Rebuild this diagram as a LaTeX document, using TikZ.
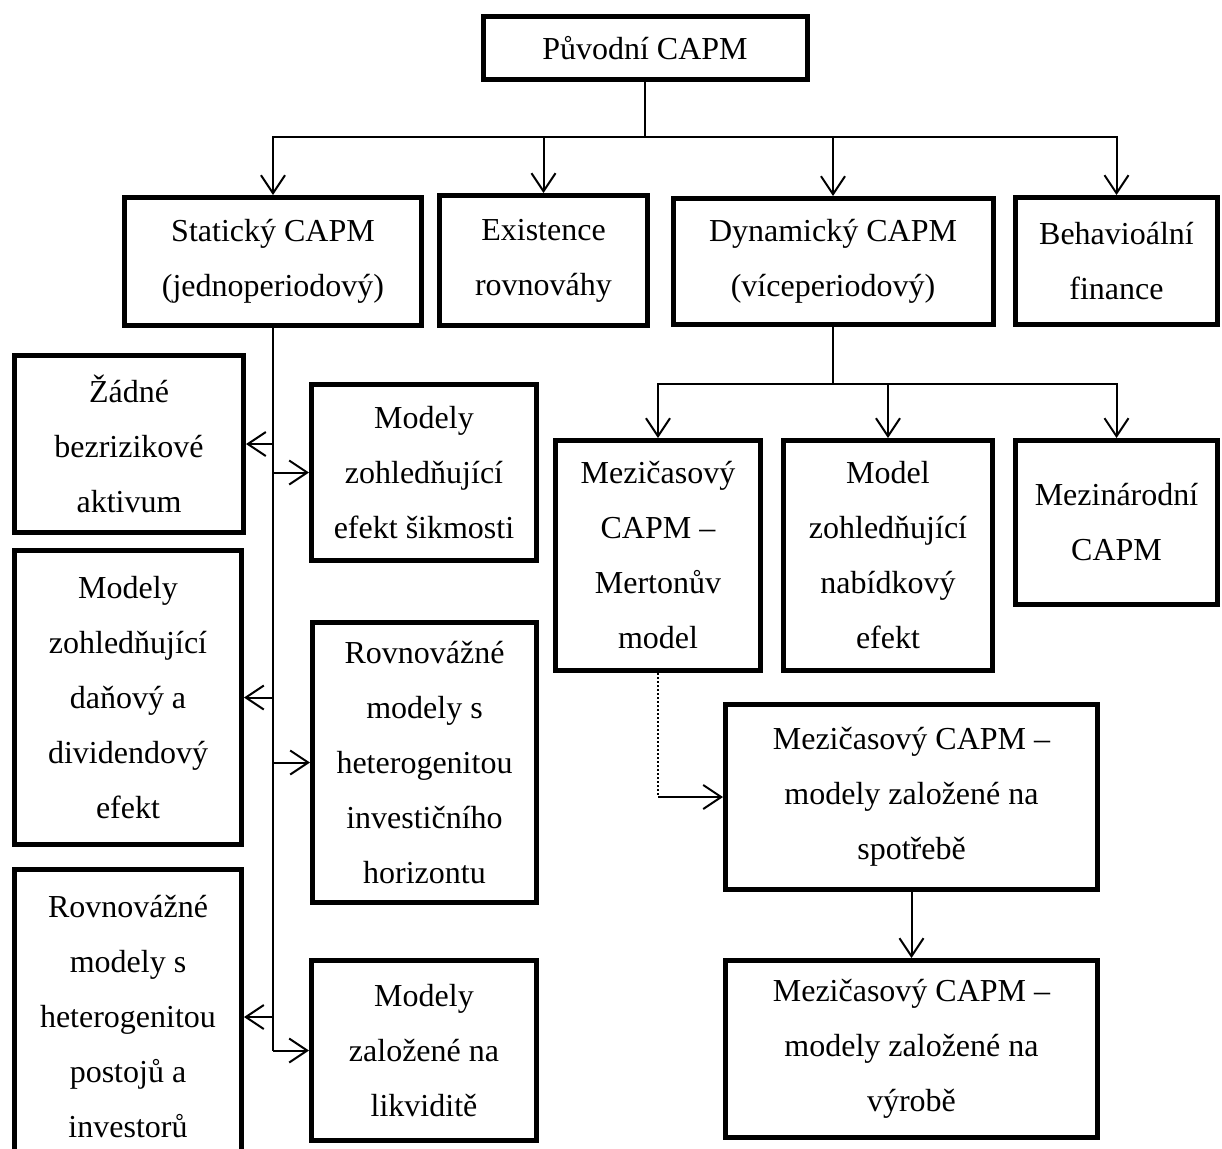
\documentclass[tikz,border=0pt]{standalone}
\usepackage{fontspec}
\setmainfont{Liberation Serif}
\usetikzlibrary{arrows.meta,positioning}

\begin{document}
\begin{tikzpicture}[x=0.5pt,y=-0.5pt]
    \tikzstyle{block} = [rectangle, draw, line width=2.5pt, align=center,
               inner sep=0pt, font=\fontsize{16}{27.5}\selectfont]
    \tikzstyle{line} = [draw, line width=1pt]
    \tikzstyle{arr} = [line, -{Straight Barb[length=9pt,width=12pt]}]

    \useasboundingbox (0,0) rectangle (1222,1148);

    % Define top levels
    \node[block, minimum width=162pt, minimum height=31.5pt] (top) at (645,48) {Původní CAPM};
    \node[block, minimum width=148.5pt, minimum height=64pt] (stat) at (273,261.5) {Statický CAPM\\(jednoperiodový)};
    \node[block, minimum width=104pt, minimum height=65pt] (exist) at (543.5,260.5) {Existence\\rovnováhy};
    \node[block, minimum width=160pt, minimum height=63pt] (dyn) at (833,261.5) {Dynamický CAPM\\(víceperiodový)};
    \node[block, minimum width=101pt, minimum height=63.5pt] (behav) at (1116.5,261) {Behavioální\\finance};

    % Define static branch
    \node[block, minimum width=114.5pt, minimum height=88.5pt] (zadne) at (129,444) {Žádné\\bezrizikové\\aktivum};
    \node[block, minimum width=113.5pt, minimum height=147pt] (dane) at (128,697.5) {Modely\\zohledňující\\daňový a\\dividendový\\efekt};
    \node[block, minimum width=113.5pt, minimum height=147.5pt] (postoj) at (128,1017) {Rovnovážné\\modely s\\heterogenitou\\postojů a\\investorů};
    \node[block, minimum width=112.5pt, minimum height=88pt] (sikmost) at (424,472.5) {Modely\\zohledňující\\efekt šikmosti};
    \node[block, minimum width=112pt, minimum height=140pt] (horiz) at (424.5,762.5) {Rovnovážné\\modely s\\heterogenitou\\investičního\\horizontu};
    \node[block, minimum width=112.5pt, minimum height=90pt] (likvid) at (424,1050.5) {Modely\\založené na\\likviditě};

    % Define dynamic branch
    \node[block, minimum width=102.5pt, minimum height=115pt] (merton) at (658,555.5) {Mezičasový\\CAPM –\\Mertonův\\model};
    \node[block, minimum width=104.5pt, minimum height=115pt] (nabid) at (888,555.5) {Model\\zohledňující\\nabídkový\\efekt};
    \node[block, minimum width=101pt, minimum height=82pt] (mezin) at (1116.5,522.5) {Mezinárodní\\CAPM};
    \node[block, minimum width=186pt, minimum height=92.5pt] (spotr) at (911.5,797) {Mezičasový CAPM –\\modely založené na\\spotřebě};
    \node[block, minimum width=186pt, minimum height=88.5pt] (vyrob) at (911.5,1049) {Mezičasový CAPM –\\modely založené na\\výrobě};

    % Connectors
    \coordinate (split) at (645,137);
    \draw [line] (top.south) -- (split);
    \foreach \n in {stat,exist,dyn,behav}
      \draw [arr] (split) -| (\n.north);

    \coordinate (sbot) at (stat.south |- likvid.west);
    \draw [line] (stat.south) -- (sbot);
    \foreach \n in {zadne,dane,postoj}
      \draw [arr] (stat.south |- \n.east) -- (\n.east);
    \foreach \n in {sikmost,horiz}
      \draw [arr] (stat.south |- \n.west) -- (\n.west);
    \draw [arr] (sbot) -- (likvid.west);

    \coordinate (dsplit) at (833,384);
    \draw [line] (dyn.south) -- (dsplit);
    \foreach \n in {merton,nabid,mezin}
      \draw [arr] (dsplit) -| (\n.north);

    \coordinate (mbend) at (merton.south |- spotr.west);
    \draw [line, densely dotted] (merton.south) -- (mbend);
    \draw [arr] (mbend) -- (spotr.west);
    \draw [arr] (spotr.south) -- (vyrob.north);

  \end{tikzpicture}
\end{document}
